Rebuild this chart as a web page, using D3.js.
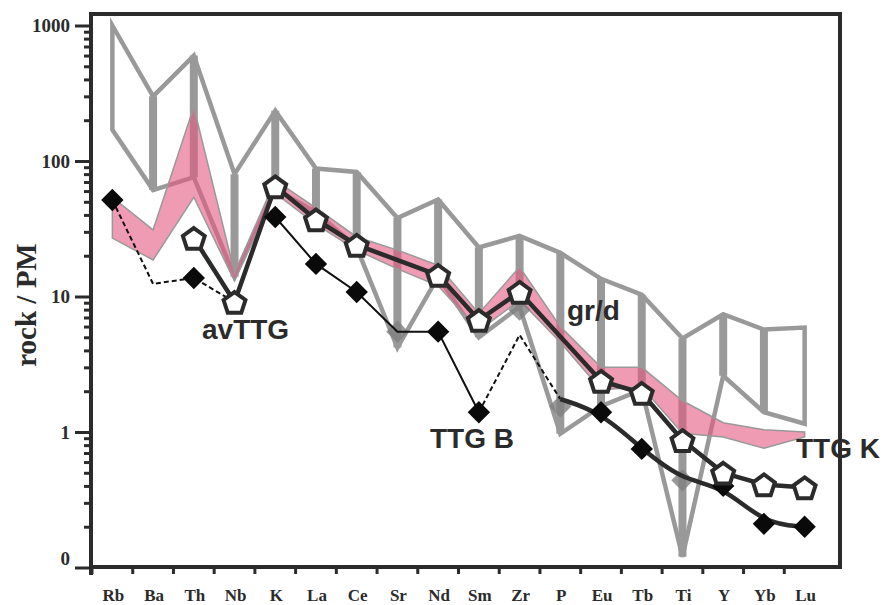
<!DOCTYPE html>
<html>
<head>
<meta charset="utf-8">
<script src="https://cdn.jsdelivr.net/npm/d3@7"></script>
<style>
	body { margin: 0; background: #fff; }
</style>
</head>
<body>
<div id="chart"></div>
<script>
var elements = ["Rb","Ba","Th","Nb","K","La","Ce","Sr","Nd","Sm","Zr","P","Eu","Tb","Ti","Y","Yb","Lu"];

// gr/d field (grey envelope)
var grdUpper = [1000, 300, 600, 80, 235, 88, 83, 38, 52, 23, 28, 21, 13.5, 10.3, 4.9, 7.4, 5.7, 5.9];
var grdLower = [170, 61, 76, 14, 62, 42, 23, 4.2, 14, 5.0, 8.4, 0.97, 1.55, 2.05, 0.12, 2.6, 1.4, 1.15];

// TTG K field (pink band)
var ttgkUpper = [54, 31, 250, 15, 72, 45, 27.5, 22, 17, 7.5, 16.5, 6.0, 3.0, 3.0, 1.7, 1.17, 1.04, 1.0];
var ttgkLower = [27, 18.6, 54, 13, 58, 34, 22, 16, 12, 5.6, 9.4, 4.6, 2.05, 2.15, 0.98, 0.92, 0.76, 0.92];

// avTTG (open pentagons), null = not plotted
var avTTG = [null, null, 27, 9.1, 65, 37, 24, null, 14.4, 6.7, 10.8, null, 2.38, 1.94, 0.87, 0.50, 0.41, 0.39];

// TTG B (black diamonds)
var ttgB = [51.5, 12.4, 13.7, 9.1, 38.6, 17.4, 10.8, 5.5, 5.5, 1.4, 5.2, 1.75, 1.4, 0.75, 0.44, 0.40, 0.21, 0.20];
var ttgBDashed = [["Rb","Ba","Th","Nb"], ["Sm","Zr","P"]];
var ttgBThin = ["K","La","Ce","Sr","Nd","Sm"];
var ttgBCurve = ["P","Eu","Tb","Ti","Y","Yb","Lu"];
var ttgBMarked = ["Rb","Th","K","La","Ce","Nd","Sm","Eu","Tb","Y","Yb","Lu"];

// grey diamonds
var greyEls = ["Sr","Zr","P","Ti"];
var greyVals = [5.5, 8.0, 1.55, 0.44];

var yTicks = [0.1, 1, 10, 100, 1000];
var yTickLabels = ["0", "1", "10", "100", "1000"];

function init(){
	var w = 883;
	var h = 605;
	var left = 91, right = 840, top = 14, bottom = 567;
	var ink = "#2b2b2b";

	var xScale = d3.scaleBand()
					.domain(elements)
					.range([92, 825]);
	var yScale = d3.scaleLog()
					.domain([0.1, 1000])
					.range([567.5, 25.5]);

	function cx(el){ return xScale(el) + xScale.bandwidth() / 2; }
	function valOf(arr, el){ return arr[elements.indexOf(el)]; }

	var svg = d3.select("#chart")
				.append("svg")
				.attr("width", w)
				.attr("height", h);

	//grey gr/d envelope: outline + range bars
	var grd = svg.append("g").attr("opacity", 0.85);
	var outline = elements.map(function(el, i){ return [cx(el), yScale(grdUpper[i])]; })
		.concat(elements.slice().reverse().map(function(el){ return [cx(el), yScale(valOf(grdLower, el))]; }));
	grd.append("path")
		.attr("d", d3.line()(outline) + "Z")
		.attr("fill", "none")
		.attr("stroke", "#888")
		.attr("stroke-width", 4.5)
		.attr("stroke-linejoin", "miter");
	grd.selectAll("line.bar")
		.data(elements.slice(1, elements.length - 1))
		.enter()
		.append("line")
		.attr("class", "bar")
		.attr("x1", cx).attr("x2", cx)
		.attr("y1", function(d){ return yScale(valOf(grdUpper, d)); })
		.attr("y2", function(d){ return yScale(valOf(grdLower, d)); })
		.attr("stroke", "#888")
		.attr("stroke-width", 8);

	//pink TTG K band
	var band = d3.area()
				.x(function(d){ return cx(d); })
				.y0(function(d){ return yScale(valOf(ttgkLower, d)); })
				.y1(function(d){ return yScale(valOf(ttgkUpper, d)); });
	svg.append("path")
		.attr("d", band(elements))
		.attr("fill", "rgb(230,88,130)")
		.attr("fill-opacity", 0.6)
		.attr("stroke", "#999")
		.attr("stroke-width", 1.5);

	//grey diamonds
	var diamond = d3.symbol().type(d3.symbolSquare).size(250);
	svg.selectAll("path.grey")
		.data(greyEls)
		.enter()
		.append("path")
		.attr("class", "grey")
		.attr("d", diamond)
		.attr("transform", function(d, i){
			return "translate(" + cx(d) + "," + yScale(greyVals[i]) + ") rotate(45)";
		})
		.attr("fill", "#808080")
		.attr("opacity", 0.8);

	//TTG B lines
	var line = d3.line()
				.x(function(d){ return cx(d); })
				.y(function(d){ return yScale(valOf(ttgB, d)); });
	ttgBDashed.forEach(function(run){
		svg.append("path")
			.attr("d", line(run))
			.attr("fill", "none")
			.attr("stroke", "#111")
			.attr("stroke-width", 2)
			.attr("stroke-dasharray", "5,3");
	});
	svg.append("path")
		.attr("d", line(ttgBThin))
		.attr("fill", "none")
		.attr("stroke", "#111")
		.attr("stroke-width", 2);
	svg.append("path")
		.attr("d", line.curve(d3.curveBasis)(ttgBCurve))
		.attr("fill", "none")
		.attr("stroke", ink)
		.attr("stroke-width", 4.5);

	//avTTG line
	var av = elements.filter(function(el, i){ return avTTG[i] != null; });
	var avLine = d3.line()
				.x(function(d){ return cx(d); })
				.y(function(d){ return yScale(valOf(avTTG, d)); });
	svg.append("path")
		.attr("d", avLine(av))
		.attr("fill", "none")
		.attr("stroke", ink)
		.attr("stroke-width", 4.5)
		.attr("stroke-linejoin", "round");

	//black diamonds
	svg.selectAll("path.ttgb")
		.data(ttgBMarked)
		.enter()
		.append("path")
		.attr("class", "ttgb")
		.attr("d", diamond)
		.attr("transform", function(d){
			return "translate(" + cx(d) + "," + yScale(valOf(ttgB, d)) + ") rotate(45)";
		})
		.attr("fill", "#0a0a0a");

	//pentagons
	var r = 11.5;
	var pent = d3.range(5).map(function(k){
		var a = -Math.PI / 2 + k * 2 * Math.PI / 5;
		return [r * Math.cos(a), r * Math.sin(a) + 1.5];
	});
	svg.selectAll("path.av")
		.data(av)
		.enter()
		.append("path")
		.attr("class", "av")
		.attr("d", d3.line()(pent) + "Z")
		.attr("transform", function(d){
			return "translate(" + cx(d) + "," + yScale(valOf(avTTG, d)) + ")";
		})
		.attr("fill", "#fff")
		.attr("stroke", ink)
		.attr("stroke-width", 4)
		.attr("stroke-linejoin", "miter");

	//frame
	svg.append("rect")
		.attr("x", left).attr("y", top)
		.attr("width", right - left).attr("height", bottom - top)
		.attr("fill", "none")
		.attr("stroke", ink)
		.attr("stroke-width", 4);
	svg.append("line")
		.attr("x1", left).attr("x2", left)
		.attr("y1", bottom).attr("y2", bottom + 8)
		.attr("stroke", ink).attr("stroke-width", 4);

	//y axis
	var minor = [];
	[0.1, 1, 10, 100].forEach(function(dec){
		d3.range(2, 10).forEach(function(m){ minor.push(dec * m); });
	});
	var yMinor = svg.append("g")
		.attr("transform", "translate(" + (left - 1) + ",0)")
		.call(d3.axisLeft(yScale).tickValues(minor).tickSize(6).tickFormat(""));
	var yAxis = svg.append("g")
		.attr("transform", "translate(" + (left - 1) + ",0)")
		.call(d3.axisLeft(yScale)
			.tickValues(yTicks)
			.tickSize(15)
			.tickPadding(5)
			.tickFormat(function(d, i){ return yTickLabels[i]; }));
	[yMinor, yAxis].forEach(function(g){
		g.select(".domain").remove();
		g.selectAll(".tick line").attr("stroke", ink).attr("stroke-width", 3);
	});
	yAxis.selectAll("text")
		.attr("fill", ink)
		.style("font", "bold 19px 'Liberation Serif', 'Times New Roman', serif");
	//lowest label sits a little above the base line
	yAxis.selectAll(".tick").filter(function(d){ return d === 0.1; })
		.select("text").attr("dy", "-0.15em");

	//x axis
	svg.selectAll("line.xtick")
		.data(elements)
		.enter()
		.append("line")
		.attr("class", "xtick")
		.attr("x1", function(d){ return xScale(d); })
		.attr("x2", function(d){ return xScale(d); })
		.attr("y1", bottom).attr("y2", bottom + 7)
		.attr("stroke", ink)
		.attr("stroke-width", 3);
	var xAxis = svg.append("g")
		.attr("transform", "translate(1," + bottom + ")")
		.call(d3.axisBottom(xScale).tickSize(0).tickPadding(22));
	xAxis.select(".domain").remove();
	xAxis.selectAll("text")
		.attr("fill", ink)
		.style("font", "bold 17px 'Liberation Serif', 'Times New Roman', serif");

	//y title
	svg.append("text")
		.attr("transform", "translate(36,305) rotate(-90)")
		.attr("text-anchor", "middle")
		.attr("fill", ink)
		.style("font", "bold 29px 'Liberation Serif', 'Times New Roman', serif")
		.text("rock / PM");

	//field labels
	var labels = [
		{ t: "avTTG", x: 202, y: 339 },
		{ t: "gr/d", x: 567, y: 320 },
		{ t: "TTG B", x: 430, y: 448 },
		{ t: "TTG K", x: 796, y: 458 }
	];
	svg.selectAll("text.lbl")
		.data(labels)
		.enter()
		.append("text")
		.attr("class", "lbl")
		.attr("x", function(d){ return d.x; })
		.attr("y", function(d){ return d.y; })
		.attr("fill", ink)
		.style("font", "bold 28px 'Liberation Sans', Arial, sans-serif")
		.text(function(d){ return d.t; });
}

window.onload = init;
</script>
</body>
</html>
